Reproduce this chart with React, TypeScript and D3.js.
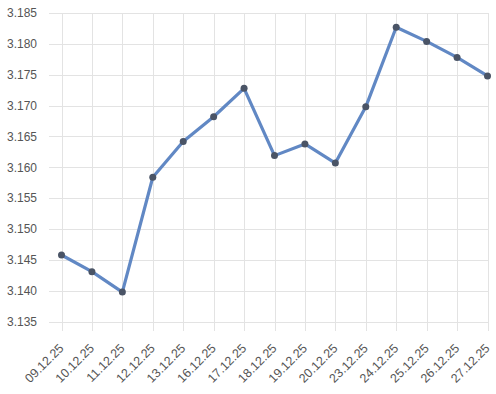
import React from "react";
import * as d3 from "d3";

const categories = ["09.12.25","10.12.25","11.12.25","12.12.25","13.12.25","16.12.25","17.12.25","18.12.25","19.12.25","20.12.25","23.12.25","24.12.25","25.12.25","26.12.25","27.12.25"];
const values = [3.1458,3.1431,3.1398,3.1584,3.1642,3.1682,3.1728,3.1619,3.1638,3.1607,3.1698,3.1827,3.1804,3.1778,3.1748];
const yTicks = [3.135,3.14,3.145,3.15,3.155,3.16,3.165,3.17,3.175,3.18,3.185];

export default function App() {
  const W = 496, H = 394;
  const x = d3.scalePoint<string>().domain(categories).range([61.5, 487.5]);
  const y = d3.scaleLinear().domain([3.135, 3.185]).range([321.7, 13]);
  const line = d3.line<number>().x((_, i) => x(categories[i])!).y(d => y(d));
  const font = "'Liberation Sans', Arial, Helvetica, sans-serif";
  return (
    <svg width={W} height={H} style={{ position: "absolute", left: 0, top: 0, background: "#fff" }} fontFamily={font}>
      {yTicks.map(t => (
        <g key={t}>
          <line x1={49} x2={488} y1={Math.round(y(t)) + 0.5} y2={Math.round(y(t)) + 0.5} stroke="#e3e3e3" strokeWidth={1} />
          <text x={37} y={y(t)} dy="0.35em" textAnchor="end" fontSize={12} fill="#555">{t.toFixed(3)}</text>
        </g>
      ))}
      {categories.map(c => (
        <g key={c}>
          <line x1={Math.round(x(c)!) + 0.5} x2={Math.round(x(c)!) + 0.5} y1={13} y2={331} stroke="#e3e3e3" strokeWidth={1} />
          <text transform={`translate(${x(c)! + 3},${349}) rotate(-45)`} textAnchor="end" fontSize={12.5} fill="#555">{c}</text>
        </g>
      ))}
      <path d={line(values)!} fill="none" stroke="#6188c4" strokeWidth={3.2} strokeLinejoin="round" />
      {values.map((v, i) => (
        <circle key={i} cx={x(categories[i])!} cy={y(v)} r={3.5} fill="#4a5466" />
      ))}
    </svg>
  );
}
